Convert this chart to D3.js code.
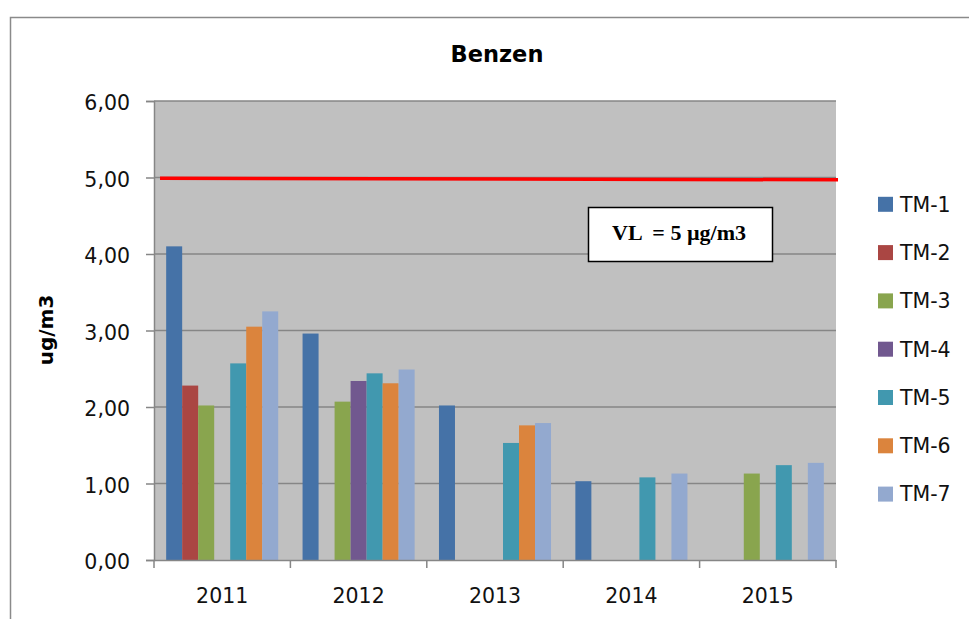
<!DOCTYPE html>
<html>
<head>
<meta charset="UTF-8">
<title>Benzen</title>
<script src="https://d3js.org/d3.v7.min.js"></script>
<style>
  body { margin: 0; background: #fff; }
  svg { display: block; font-family: "DejaVu Sans", sans-serif; }
</style>
</head>
<body>
<div id="chart"></div>
<script>
// data
var years = ["2011", "2012", "2013", "2014", "2015"];
var stations = ["TM-1", "TM-2", "TM-3", "TM-4", "TM-5", "TM-6", "TM-7"];
var tm1 = [4.10, 2.96, 2.02, 1.03, null];
var tm2 = [2.28, null, null, null, null];
var tm3 = [2.02, 2.07, null, null, 1.13];
var tm4 = [null, 2.34, null, null, null];
var tm5 = [2.57, 2.44, 1.53, 1.08, 1.24];
var tm6 = [3.05, 2.31, 1.76, null, null];
var tm7 = [3.25, 2.49, 1.79, 1.13, 1.27];
var yTicks = [0, 1, 2, 3, 4, 5, 6];
var limitValue = [4.99, 4.97];   // red line, drawn slightly sloping as in the source
var limitLabel = "VL = 5 µg/m3";
var colors = ["#4572A7", "#AA4643", "#89A54E", "#71588F", "#4198AF", "#DB843D", "#93A9CF"];

var series = [tm1, tm2, tm3, tm4, tm5, tm6, tm7];

var W = 969, H = 619;
var m = { left: 154, top: 101, right: 836, bottom: 560 };

var svg = d3.select("#chart").append("svg")
    .attr("width", W)
    .attr("height", H);

// outer frame
svg.append("rect")
    .attr("x", 10.5).attr("y", 17.5)
    .attr("width", 1000).attr("height", 700)
    .attr("fill", "#fff")
    .attr("stroke", "#8a8a8a")
    .attr("stroke-width", 1.5);

var x = d3.scaleBand().domain(years).range([m.left, m.right]);
var xs = d3.scaleBand().domain(stations).range([0, x.bandwidth()]).paddingInner(0).paddingOuter(0.76);
var y = d3.scaleLinear().domain([0, 6]).range([m.bottom, m.top]);

// plot background
svg.append("rect")
    .attr("x", m.left).attr("y", m.top)
    .attr("width", m.right - m.left).attr("height", m.bottom - m.top)
    .attr("fill", "#c0c0c0");

// gridlines
svg.append("g").selectAll("line")
    .data(yTicks.filter(function(d) { return d > 0; }))
    .join("line")
    .attr("x1", m.left).attr("x2", m.right)
    .attr("y1", function(d) { return y(d); })
    .attr("y2", function(d) { return y(d); })
    .attr("stroke", "#868686")
    .attr("stroke-width", 1.5);

// bars
var rows = [];
series.forEach(function(s, i) {
  s.forEach(function(v, j) {
    if (v != null) rows.push({ st: stations[i], yr: years[j], v: v, c: colors[i] });
  });
});
svg.append("g").selectAll("rect")
    .data(rows)
    .join("rect")
    .attr("x", function(d) { return x(d.yr) + xs(d.st); })
    .attr("y", function(d) { return y(d.v); })
    .attr("width", xs.bandwidth())
    .attr("height", function(d) { return y(0) - y(d.v); })
    .attr("fill", function(d) { return d.c; });

// limit line
svg.append("line")
    .attr("x1", 160).attr("x2", 838)
    .attr("y1", y(limitValue[0])).attr("y2", y(limitValue[1]))
    .attr("stroke", "#ff0000")
    .attr("stroke-width", 3.5);

// y axis
var yAxis = svg.append("g")
    .attr("transform", "translate(" + m.left + ",0)")
    .call(d3.axisLeft(y).tickValues(yTicks).tickSize(8).tickPadding(16)
      .tickFormat(function(d) { return d3.format(".2f")(d).replace(".", ","); }));
yAxis.select(".domain").attr("stroke", "#868686").attr("stroke-width", 1.5);
yAxis.selectAll(".tick line").attr("stroke", "#868686").attr("stroke-width", 1.5);
yAxis.selectAll("text").attr("font-size", 20.5).attr("fill", "#111")
    .attr("font-family", "DejaVu Sans").attr("dy", "0.42em");

// x axis
var xAxis = svg.append("g")
    .attr("transform", "translate(0," + m.bottom + ")")
    .call(d3.axisBottom(x).tickSize(0).tickPadding(28));
xAxis.select(".domain").attr("stroke", "#868686").attr("stroke-width", 1.5);
xAxis.selectAll("text").attr("font-size", 20.5).attr("fill", "#111")
    .attr("font-family", "DejaVu Sans");
xAxis.selectAll(".sep")
    .data(years.concat([null]))
    .join("line")
    .attr("class", "sep")
    .attr("x1", function(d, i) { return m.left + i * x.step(); })
    .attr("x2", function(d, i) { return m.left + i * x.step(); })
    .attr("y1", 0).attr("y2", 8)
    .attr("stroke", "#868686")
    .attr("stroke-width", 1.5);

// titles
svg.append("text")
    .attr("x", 497).attr("y", 62)
    .attr("text-anchor", "middle")
    .attr("font-size", 22.5).attr("font-weight", "bold")
    .text("Benzen");

svg.append("text")
    .attr("transform", "translate(53,330) rotate(-90)")
    .attr("text-anchor", "middle")
    .attr("font-size", 20).attr("font-weight", "bold")
    .text("ug/m3");

// limit label box
svg.append("rect")
    .attr("x", 588.5).attr("y", 207.5)
    .attr("width", 184).attr("height", 54)
    .attr("fill", "#fff")
    .attr("stroke", "#000")
    .attr("stroke-width", 1.5);
svg.append("text")
    .attr("x", 679).attr("y", 240)
    .attr("text-anchor", "middle")
    .attr("font-family", "Liberation Serif, serif")
    .attr("font-size", 22).attr("font-weight", "bold")
    .attr("xml:space", "preserve")
    .text(limitLabel.replace("VL =", "VL  ="));

// legend
var lg = svg.append("g").selectAll("g")
    .data(stations)
    .join("g")
    .attr("transform", function(d, i) { return "translate(878," + (204.3 + i * 48.3) + ")"; });
lg.append("rect")
    .attr("x", 0).attr("y", -7.5)
    .attr("width", 15).attr("height", 15)
    .attr("fill", function(d, i) { return colors[i]; });
lg.append("text")
    .attr("x", 22).attr("y", 0).attr("dy", "0.36em")
    .attr("font-size", 20.5).attr("fill", "#111")
    .text(function(d) { return d; });
</script>
</body>
</html>
